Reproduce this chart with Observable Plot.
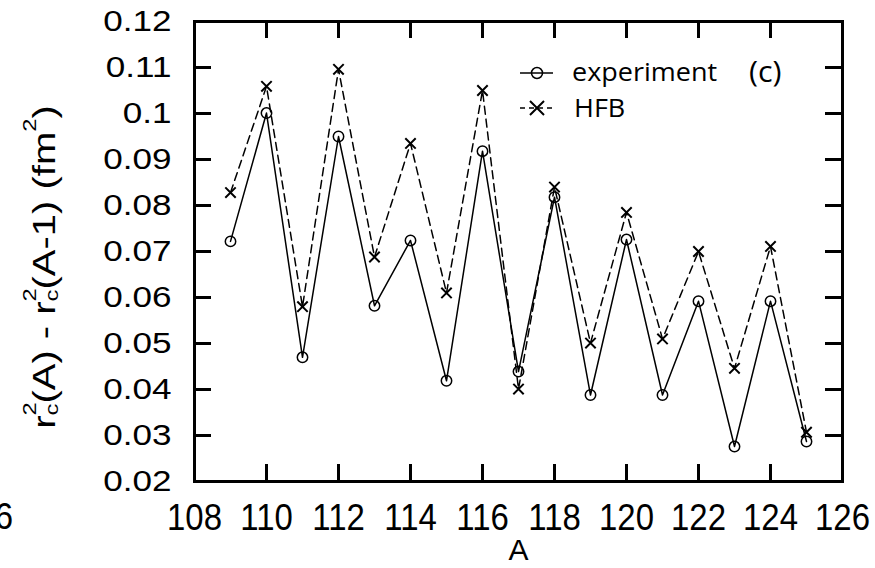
<!DOCTYPE html>
<html>
<head>
<meta charset="utf-8">
<script src="https://cdn.jsdelivr.net/npm/d3@7"></script>
<script src="https://cdn.jsdelivr.net/npm/@observablehq/plot@0.6"></script>
<style>
  html, body { margin: 0; padding: 0; background: #fff; }
  #chart { width: 875px; height: 568px; overflow: hidden; }
</style>
</head>
<body>
<div id="chart"></div>
<script>
// Mass number A
const massNumbers = [109, 110, 111, 112, 113, 114, 115, 116, 117, 118, 119, 120, 121, 122, 123, 124, 125];
// r_c^2(A) - r_c^2(A-1) (fm^2), experiment
const experimentValues = [0.0722, 0.1001, 0.0470, 0.0950, 0.0582, 0.0724, 0.0419, 0.0918, 0.0439, 0.0818, 0.0388, 0.0726, 0.0388, 0.0592, 0.0276, 0.0592, 0.0287];
// HFB calculation
const hfbValues = [0.0828, 0.1059, 0.0580, 0.1096, 0.0688, 0.0935, 0.0610, 0.1050, 0.0401, 0.0840, 0.0501, 0.0785, 0.0510, 0.0700, 0.0446, 0.0711, 0.0307];
// axis ticks
const xTicks = [108, 110, 112, 114, 116, 118, 120, 122, 124, 126];
const yTicks = [0.02, 0.03, 0.04, 0.05, 0.06, 0.07, 0.08, 0.09, 0.10, 0.11, 0.12];
const seriesNames = ["experiment", "HFB"];
const panelLabel = "(c)";

const expData = massNumbers.map((a, i) => ({A: a, v: experimentValues[i]}));
const hfbData = massNumbers.map((a, i) => ({A: a, v: hfbValues[i]}));

const W = 875, H = 568, mL = 194, mR = 33, mT = 21, mB = 87;
const innerW = W - mL - mR, innerH = H - mT - mB;
const tickLen = 17;

const plot = Plot.plot({
  width: W, height: H,
  marginLeft: mL, marginRight: mR, marginTop: mT, marginBottom: mB,
  x: {domain: [108, 126]},
  y: {domain: [0.02, 0.12]},
  style: {fontFamily: "'Liberation Sans', Arial, sans-serif", background: "#fff", color: "#000", overflow: "visible"},
  marks: [
    // inward ticks on all four sides
    Plot.ruleX(xTicks, {stroke: "#000", strokeWidth: 3, insetTop: innerH - tickLen}),
    Plot.ruleX(xTicks, {stroke: "#000", strokeWidth: 3, insetBottom: innerH - tickLen}),
    Plot.ruleY(yTicks, {stroke: "#000", strokeWidth: 3, insetRight: innerW - tickLen}),
    Plot.ruleY(yTicks, {stroke: "#000", strokeWidth: 3, insetLeft: innerW - tickLen}),
    Plot.frame({stroke: "#000", strokeWidth: 3}),
    Plot.axisX(xTicks, {tickSize: 0, tickPadding: 22, fontSize: 37, label: null, tickFormat: d => String(d), fill: "#000"}),
    Plot.axisY(yTicks, {tickSize: 0, tickPadding: 23, fontSize: 30, label: null, tickFormat: d3.format("~g"), fill: "#000"}),
    Plot.text(["A"], {frameAnchor: "bottom", dy: 78, fontSize: 30, fill: "#000", lineAnchor: "bottom"}),
    Plot.line(hfbData, {x: "A", y: "v", stroke: "#000", strokeWidth: 1.5, strokeDasharray: "8,5"}),
    Plot.line(expData, {x: "A", y: "v", stroke: "#000", strokeWidth: 1.5}),
    Plot.dot(hfbData, {x: "A", y: "v", symbol: "times", r: 4.8, stroke: "#000", strokeWidth: 2}),
    Plot.dot(expData, {x: "A", y: "v", symbol: "circle", r: 5.2, stroke: "#000", fill: "none", strokeWidth: 1.5})
  ]
});

document.getElementById("chart").appendChild(plot);
const svg = d3.select(plot);

// stretch tick labels horizontally around their anchor (keeps Plot's placement)
function scaleTexts(selector, sx) {
  svg.selectAll(selector).each(function () {
    const t = this.getAttribute("transform") || "";
    this.setAttribute("transform", `${t} scale(${sx},1)`);
  });
}
scaleTexts('g[aria-label="y-axis tick label"] text', 1.17);
scaleTexts('g[aria-label="x-axis tick label"] text', 0.89);

// partial tick label of neighbouring panel at far left
svg.append("text")
  .attr("transform", "translate(13,529) scale(0.89,1)")
  .attr("text-anchor", "end")
  .attr("font-size", 37)
  .attr("fill", "#000")
  .text("126");

// y-axis label with super/subscripts
const yl = svg.append("text")
  .attr("transform", "translate(55,267) rotate(-90) scale(1.25,1)")
  .attr("text-anchor", "middle")
  .attr("font-size", 32)
  .attr("fill", "#000");
function addR() {
  yl.append("tspan").text("r");
  yl.append("tspan").attr("font-size", 19).attr("dy", -19).text("2");
  yl.append("tspan").attr("font-size", 19).attr("dx", -10.6).attr("dy", 22).text("c");
}
addR();
yl.append("tspan").attr("dy", -3).text("(A) - ");
addR();
yl.append("tspan").attr("dy", -3).text("(A-1) (fm");
yl.append("tspan").attr("font-size", 19).attr("dy", -19).text("2");
yl.append("tspan").attr("dy", 19).text(")");

// legend
const lg = svg.append("g").attr("font-family", "'Open Sans', sans-serif").attr("fill", "#000").attr("text-anchor", "start");
lg.append("line").attr("x1", 520).attr("x2", 553).attr("y1", 73).attr("y2", 73)
  .attr("stroke", "#000").attr("stroke-width", 1.5);
lg.append("circle").attr("cx", 537).attr("cy", 73).attr("r", 5.5)
  .attr("fill", "none").attr("stroke", "#000").attr("stroke-width", 1.5);
lg.append("line").attr("x1", 520).attr("x2", 553).attr("y1", 108).attr("y2", 108)
  .attr("stroke", "#000").attr("stroke-width", 1.5).attr("stroke-dasharray", "5,4");
lg.append("path").attr("transform", "translate(537,108)")
  .attr("d", d3.symbol(d3.symbolTimes, 130)())
  .attr("fill", "none").attr("stroke", "#000").attr("stroke-width", 2);
lg.append("text").attr("transform", "translate(572,81) scale(1.08,1)").attr("font-size", 25).attr("text-anchor", "start").text(seriesNames[0]);
lg.append("text").attr("transform", "translate(574,117) scale(1.08,1)").attr("font-size", 25).attr("text-anchor", "start").text(seriesNames[1]);
lg.append("text").attr("transform", "translate(749,82) scale(1.05,1)").attr("font-size", 29).attr("text-anchor", "start").text(panelLabel);
</script>
</body>
</html>
